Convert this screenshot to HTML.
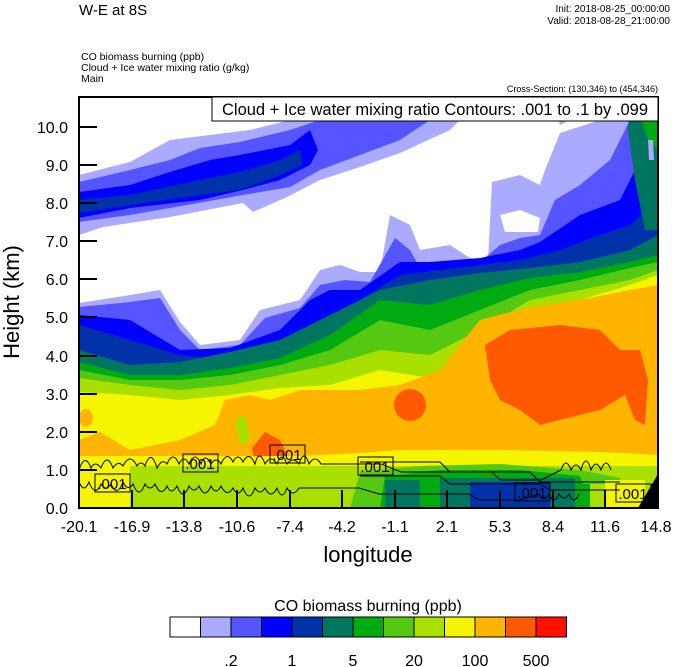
<!DOCTYPE html>
<html><head><meta charset="utf-8"><style>
body{margin:0;background:#fff}
svg{display:block;font-family:"Liberation Sans",sans-serif}
</style></head><body>
<svg width="674" height="667" viewBox="0 0 674 667" xmlns="http://www.w3.org/2000/svg">
<rect width="674" height="667" fill="#fff"/>
<text x="79" y="15" font-size="15">W-E at 8S</text>
<text x="670" y="12" font-size="10" text-anchor="end">Init: 2018-08-25_00:00:00</text>
<text x="670" y="24" font-size="10" text-anchor="end">Valid: 2018-08-28_21:00:00</text>
<text x="81" y="60" font-size="10.5">CO biomass burning   (ppb)</text>
<text x="81" y="71" font-size="10.5">Cloud + Ice water mixing ratio   (g/kg)</text>
<text x="81" y="82" font-size="10.5">Main</text>
<text x="658" y="92" font-size="9" text-anchor="end">Cross-Section: (130,346) to (454,346)</text>
<clipPath id="c"><rect x="79" y="97" width="579" height="411"/></clipPath>
<g clip-path="url(#c)">
<polygon fill="#aaaaff" points="79,175 130,162 170,140 250,130 290,120 320,105 340,97 480,97 470,110 450,130 400,153 360,167 320,180 287,197 253,212 243,203 170,217 103,227 79,235"/>
<polygon fill="#5555ff" points="79,182 130,170 170,160 200,148 240,142 290,130 320,120 350,97 450,97 430,120 400,140 360,155 320,170 290,187 243,195 170,208 130,215 79,222"/>
<polygon fill="#aaaaff" points="550,97 575,97 570,120 560,125"/>
<polygon fill="#0000ff" points="79,192 130,185 170,172 210,160 240,155 290,145 310,130 318,150 310,165 280,180 243,190 200,200 130,208 79,218"/>
<polygon fill="#0033aa" points="79,200 130,195 200,180 240,172 280,160 300,150 302,165 280,175 240,190 200,195 130,205 79,213"/>
<polygon fill="#aaaaff" points="79,303 130,295 160,290 180,322 200,345 240,340 260,310 300,300 320,270 340,265 360,272 380,272 390,215 410,225 420,250 450,245 470,258 488,262 492,182 520,175 540,185 545,170 560,133 600,120 630,97 658,97 658,508 79,508"/>
<polygon fill="#fff" points="500,215 520,210 540,218 538,232 505,232"/>
<polygon fill="#5555ff" points="79,307 130,302 160,298 180,330 200,350 240,345 265,318 300,308 320,285 345,280 370,282 395,238 410,250 420,268 450,262 480,262 500,245 520,238 540,235 555,200 580,185 610,160 635,110 658,97 658,508 79,508"/>
<polygon fill="#0000ff" points="79,315 130,320 180,350 230,348 280,330 310,300 330,290 360,290 400,262 430,262 480,258 520,250 540,242 580,215 620,200 640,160 658,110 658,508 79,508"/>
<polygon fill="#0033aa" points="79,325 130,340 180,355 230,360 280,345 320,325 360,300 400,275 440,270 480,265 520,260 560,250 600,235 630,225 658,200 658,508 79,508"/>
<polygon fill="#00755f" points="630,97 650,97 658,110 658,230 645,230 635,180 628,130"/>
<polygon fill="#00aa11" points="640,97 655,97 658,105 658,150 648,140 640,115"/>
<polygon fill="#aaaaff" points="648,140 653,140 654,160 649,160"/>
<polygon fill="#00755f" points="79,350 130,365 180,362 230,352 280,340 330,315 380,290 430,280 480,273 530,268 580,262 630,250 658,235 658,508 79,508"/>
<polygon fill="#00aa11" points="79,362 130,375 180,375 230,368 280,358 330,335 380,300 430,305 480,290 530,278 580,272 630,262 658,255 658,508 79,508"/>
<polygon fill="#55c811" points="79,370 130,380 180,380 230,375 280,365 330,350 380,320 430,330 480,310 530,290 580,280 630,268 658,262 658,508 79,508"/>
<polygon fill="#aae000" points="79,378 130,385 180,390 230,385 280,375 330,365 380,350 430,355 480,330 530,300 580,290 630,280 658,270 658,508 79,508"/>
<polygon fill="#f5f500" points="79,392 130,395 180,400 230,395 280,388 330,385 380,370 430,378 480,340 530,315 580,300 630,285 658,275 658,508 79,508"/>
<polygon fill="#ffb400" points="79,440 100,432 130,450 180,440 215,425 225,400 250,395 270,400 300,390 360,390 400,385 440,370 460,345 480,320 530,307 580,300 630,290 658,285 658,455 600,452 500,450 400,450 360,453 300,456 250,458 200,456 79,457"/>
<ellipse cx="86" cy="418" rx="7" ry="9" fill="#ffb400"/>
<ellipse cx="202" cy="443" rx="6" ry="8" fill="#ffb400"/>
<polygon fill="#aae000" points="235,420 245,415 250,440 240,445"/>
<polygon fill="#ff5a00" points="485,345 510,330 560,325 600,330 620,350 640,350 648,380 645,425 635,420 625,395 600,410 560,420 540,425 520,410 500,400 490,380"/>
<ellipse cx="410" cy="405" rx="16" ry="16" fill="#ff5a00"/>
<polygon fill="#ff5a00" points="252,448 265,432 280,440 292,465 270,470 255,462"/>
<rect x="79" y="456" width="579" height="12" fill="#f5f500"/>
<rect x="130" y="466" width="528" height="42" fill="#aae000"/>
<rect x="79" y="456" width="51" height="52" fill="#f5f500"/>
<polygon fill="#55c811" points="350,508 360,472 420,466 500,464 580,470 620,478 620,508"/>
<polygon fill="#00aa11" points="380,508 385,476 440,470 520,470 580,476 592,508"/>
<rect x="385" y="480" width="35" height="28" fill="#00755f"/>
<rect x="440" y="478" width="135" height="30" fill="#00755f"/>
<rect x="470" y="482" width="80" height="26" fill="#0033aa"/>
<rect x="575" y="484" width="15" height="24" fill="#00aa11"/>
<rect x="590" y="484" width="15" height="24" fill="#aae000"/>
<rect x="605" y="480" width="40" height="28" fill="#f5f500"/>
<polygon fill="#000" points="638,508 658,474 658,508"/>
<g fill="none" stroke="#000" stroke-width="1">
<path d="M79,470 q6,-18 12,-2 q4,-8 10,0 q6,-16 12,0 q5,-8 10,-2 q7,-14 14,0 q4,-6 8,0 q6,-18 12,2 q5,-10 10,-4 q6,-14 12,0 q5,-10 10,0 q6,-14 12,0 q4,-12 10,0 q5,-8 10,0 q6,-14 12,-2 q5,-10 10,0 q6,-12 12,2 q4,-16 10,0 q6,-10 12,0 q5,-14 10,0 q6,-8 12,0 q5,-16 10,0 q6,-10 12,0 h60 l20,8 h90 l10,8 h40 l20,-10 q5,-14 10,0 q5,-10 10,0 q5,-18 10,0 q5,-12 10,0 q5,-14 10,0"/>
<path d="M79,482 q5,12 10,0 q6,16 12,2 q5,8 10,0 q6,14 12,-2 q5,10 10,2 q6,16 12,0 q5,8 10,0 q6,14 12,2 q4,10 10,0 q6,16 12,0 q5,8 10,0 q6,14 12,0 q5,10 10,0 q6,12 12,2 q5,10 10,0 q6,16 12,0 q5,8 10,0 q6,12 12,0 q5,14 10,0 q6,10 12,0 h60 l20,6 h90 l10,6 h40 l20,-6 q5,10 10,0 q5,12 10,0 q5,8 10,0 q5,12 10,0"/>
<path d="M360,462 h80 l10,10 h80 l10,10 h80"/>
<path d="M360,476 h80 l10,8 h90 l10,6 h70"/>
</g>
<g font-size="15" text-anchor="middle">
<rect x="95" y="474" width="35" height="18" fill="none" stroke="#000"/><text x="112" y="489">.001</text>
<rect x="183" y="454" width="35" height="18" fill="none" stroke="#000"/><text x="200" y="469">.001</text>
<rect x="270" y="445" width="35" height="18" fill="none" stroke="#000"/><text x="287" y="460">.001</text>
<rect x="358" y="457" width="35" height="18" fill="none" stroke="#000"/><text x="375" y="472">.001</text>
<rect x="515" y="483" width="35" height="18" fill="none" stroke="#000"/><text x="532" y="498">.001</text>
<rect x="616" y="484" width="35" height="18" fill="none" stroke="#000"/><text x="633" y="499">.001</text>
</g>
</g>
<rect x="79" y="97" width="579" height="411" fill="none" stroke="#000" stroke-width="2"/>
<rect x="212" y="97" width="446" height="24" fill="#fff" stroke="#000" stroke-width="1"/>
<text x="435" y="115" font-size="16.5" text-anchor="middle">Cloud + Ice water mixing ratio Contours: .001 to .1 by .099</text>
<g stroke="#000" stroke-width="2">
<line x1="79" y1="127" x2="97" y2="127"/><line x1="79" y1="165" x2="97" y2="165"/><line x1="79" y1="203" x2="97" y2="203"/><line x1="79" y1="241" x2="97" y2="241"/><line x1="79" y1="279" x2="97" y2="279"/><line x1="79" y1="317" x2="97" y2="317"/><line x1="79" y1="356" x2="97" y2="356"/><line x1="79" y1="394" x2="97" y2="394"/><line x1="79" y1="432" x2="97" y2="432"/><line x1="79" y1="470" x2="97" y2="470"/>
<line x1="132" y1="508" x2="132" y2="490"/><line x1="184" y1="508" x2="184" y2="490"/><line x1="237" y1="508" x2="237" y2="490"/><line x1="290" y1="508" x2="290" y2="490"/><line x1="342" y1="508" x2="342" y2="490"/><line x1="395" y1="508" x2="395" y2="490"/><line x1="447" y1="508" x2="447" y2="490"/><line x1="500" y1="508" x2="500" y2="490"/><line x1="553" y1="508" x2="553" y2="490"/><line x1="605" y1="508" x2="605" y2="490"/>
</g>
<g font-size="16" text-anchor="end">
<text x="68" y="133">10.0</text><text x="68" y="171">9.0</text><text x="68" y="209">8.0</text><text x="68" y="247">7.0</text><text x="68" y="285">6.0</text><text x="68" y="323">5.0</text><text x="68" y="362">4.0</text><text x="68" y="400">3.0</text><text x="68" y="438">2.0</text><text x="68" y="476">1.0</text><text x="68" y="514">0.0</text>
</g>
<g font-size="16" text-anchor="middle">
<text x="79" y="532">-20.1</text><text x="132" y="532">-16.9</text><text x="184" y="532">-13.8</text><text x="237" y="532">-10.6</text><text x="290" y="532">-7.4</text><text x="342" y="532">-4.2</text><text x="395" y="532">-1.1</text><text x="447" y="532">2.1</text><text x="500" y="532">5.3</text><text x="553" y="532">8.4</text><text x="605" y="532">11.6</text><text x="656" y="532">14.8</text>
</g>
<text x="368" y="562" font-size="22" text-anchor="middle">longitude</text>
<text transform="translate(19,302) rotate(-90)" font-size="22" text-anchor="middle">Height (km)</text>
<text x="368" y="611" font-size="16" text-anchor="middle">CO biomass burning  (ppb)</text>
<g stroke="#000" stroke-width="1">
<rect x="170" y="617" width="30.5" height="20" fill="#ffffff"/>
<rect x="200.5" y="617" width="30.5" height="20" fill="#aaaaff"/>
<rect x="231" y="617" width="30.5" height="20" fill="#5555ff"/>
<rect x="261.5" y="617" width="30.5" height="20" fill="#0000ff"/>
<rect x="292" y="617" width="30.5" height="20" fill="#0033aa"/>
<rect x="322.5" y="617" width="30.5" height="20" fill="#00755f"/>
<rect x="353" y="617" width="30.5" height="20" fill="#00aa11"/>
<rect x="383.5" y="617" width="30.5" height="20" fill="#55c811"/>
<rect x="414" y="617" width="30.5" height="20" fill="#aae000"/>
<rect x="444.5" y="617" width="30.5" height="20" fill="#f5f500"/>
<rect x="475" y="617" width="30.5" height="20" fill="#ffb400"/>
<rect x="505.5" y="617" width="30.5" height="20" fill="#ff5a00"/>
<rect x="536" y="617" width="30.5" height="20" fill="#ff1000"/>
</g>
<g font-size="16" text-anchor="middle">
<text x="231" y="666">.2</text><text x="292" y="666">1</text><text x="353" y="666">5</text><text x="414" y="666">20</text><text x="475" y="666">100</text><text x="536" y="666">500</text>
</g>
</svg>
</body></html>
